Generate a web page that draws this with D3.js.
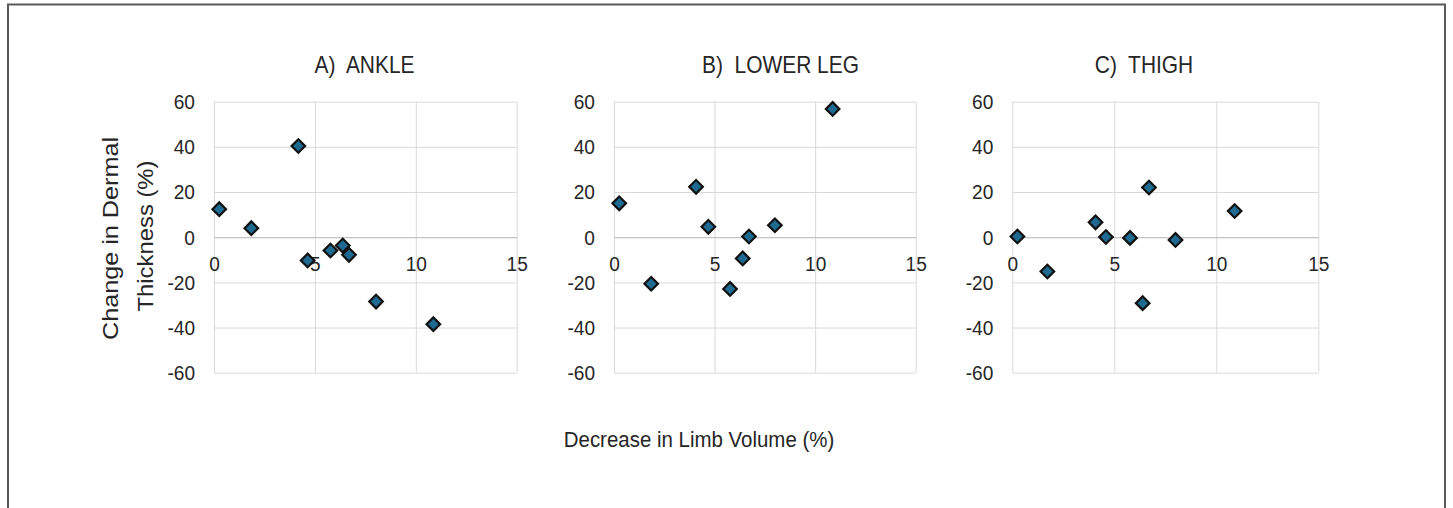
<!DOCTYPE html>
<html>
<head>
<meta charset="utf-8">
<script src="https://cdn.jsdelivr.net/npm/d3@7/dist/d3.min.js"></script>
<style>
  html, body { margin: 0; padding: 0; background: #fff; }
  svg { display: block; }
  text { font-family: "Liberation Sans", Arial, sans-serif; fill: #262626; }
</style>
</head>
<body>
<svg id="chart" width="1453" height="508"></svg>
<script>
// ---- data ----
const xTicks = [0, 5, 10, 15];
const yTicks = [-60, -40, -20, 0, 20, 40, 60];
const panelTitles = ["A)  ANKLE", "B)  LOWER LEG", "C)  THIGH"];
const xAxisLabel = "Decrease in Limb Volume (%)";
const yAxisLabelLines = ["Change in Dermal", "Thickness (%)"];

const ankleX = [0.26, 1.85, 4.18, 4.64, 5.77, 6.38, 6.69, 8.03, 10.87];
const ankleY = [12.4, 4.0, 40.4, -10.3, -5.9, -3.7, -7.8, -28.5, -38.5];

const lowerLegX = [0.26, 1.85, 4.08, 4.69, 5.77, 6.40, 6.71, 8.0, 10.87];
const lowerLegY = [15.0, -20.6, 22.3, 4.6, -22.9, -9.4, 0.3, 5.3, 56.8];

const thighX = [0.25, 1.72, 4.08, 4.59, 5.77, 6.39, 6.70, 8.0, 10.9];
const thighY = [0.3, -15.2, 6.6, 0.1, -0.3, -29.2, 22.0, -1.2, 11.6];

// ---- layout ----
const layout = [
  { left: 214, width: 302.7, titleX: 364.5 },
  { left: 614, width: 301.7, titleX: 780.5 },
  { left: 1012.3, width: 306, titleX: 1144 }
];
const plotTop = 101.7, plotBottom = 372.7;
const SX = 0.91;
const GRID = "#d9d9d9";
const FILL = "#1f6a90";
const TEXT = "#262626";

const series = [
  { xs: ankleX, ys: ankleY },
  { xs: lowerLegX, ys: lowerLegY },
  { xs: thighX, ys: thighY }
];

const svg = d3.select("#chart");
svg.append("rect").attr("width", 1453).attr("height", 508).attr("fill", "#fff");

// frame
svg.append("rect")
  .attr("x", 8).attr("y", 4.5).attr("width", 1437).attr("height", 600)
  .attr("fill", "none").attr("stroke", "#5a5a5a").attr("stroke-width", 2);

const diamond = d3.symbol().type(d3.symbolSquare).size(92);

layout.forEach((p, i) => {
  const x = d3.scaleLinear().domain([0, 15]).range([p.left, p.left + p.width]);
  const y = d3.scaleLinear().domain([-60, 60]).range([plotBottom, plotTop]);
  const g = svg.append("g");

  // vertical gridlines
  g.append("g")
    .attr("transform", `translate(0,${plotBottom})`)
    .call(d3.axisBottom(x).tickValues(xTicks).tickSize(-(plotBottom - plotTop)).tickFormat(""))
    .call(a => a.select(".domain").remove())
    .call(a => a.selectAll("line").attr("stroke", GRID).attr("stroke-width", 1));

  // horizontal gridlines + y labels
  g.append("g")
    .attr("transform", `translate(${p.left},0)`)
    .call(d3.axisLeft(y).tickValues(yTicks).tickSize(-p.width).tickPadding(19).tickFormat(d => String(d)))
    .call(a => a.select(".domain").remove())
    .call(a => a.selectAll("line").attr("stroke", GRID).attr("stroke-width", 1))
    .call(a => a.selectAll("text")
      .attr("x", 0)
      .attr("dy", "0.33em")
      .attr("transform", `translate(-19,0) scale(${SX},1)`)
      .style("font-size", "21px")
      .style("fill", TEXT));

  // x axis at zero with labels
  g.append("g")
    .attr("transform", `translate(0,${y(0)})`)
    .call(d3.axisBottom(x).tickValues(xTicks).tickSize(0).tickSizeOuter(0).tickPadding(19).tickFormat(d => String(d)))
    .call(a => a.select(".domain").attr("stroke", "#bfbfbf").attr("stroke-width", 1))
    .call(a => a.selectAll("text")
      .attr("transform", `scale(${SX},1)`)
      .style("font-size", "21px")
      .style("fill", TEXT));

  // title
  g.append("text")
    .attr("transform", `translate(${p.titleX},73.3) scale(${SX},1)`)
    .attr("text-anchor", "middle")
    .style("font-size", "23px")
    .style("white-space", "pre")
    .text(panelTitles[i]);

  // markers
  const pts = series[i].xs.map((v, k) => [v, series[i].ys[k]]);
  g.append("g").selectAll("path")
    .data(pts)
    .join("path")
    .attr("d", diamond)
    .attr("transform", d => `translate(${x(d[0])},${y(d[1])}) rotate(45)`)
    .attr("fill", FILL)
    .attr("stroke", "#111")
    .attr("stroke-width", 2.2);
});

// x axis title
svg.append("text")
  .attr("transform", `translate(699,447.3) scale(0.93,1)`)
  .attr("text-anchor", "middle")
  .style("font-size", "22px")
  .text(xAxisLabel);

// y axis title (two lines)
const yl = [
  { x: 118.3, y: 238.5, len: 203 },
  { x: 153.3, y: 236, len: 151 }
];
yAxisLabelLines.forEach((t, k) => {
  svg.append("text")
    .attr("transform", `translate(${yl[k].x},${yl[k].y}) rotate(-90)`)
    .attr("text-anchor", "middle")
    .attr("textLength", yl[k].len)
    .attr("lengthAdjust", "spacingAndGlyphs")
    .style("font-size", "21.5px")
    .text(t);
});
</script>
</body>
</html>
